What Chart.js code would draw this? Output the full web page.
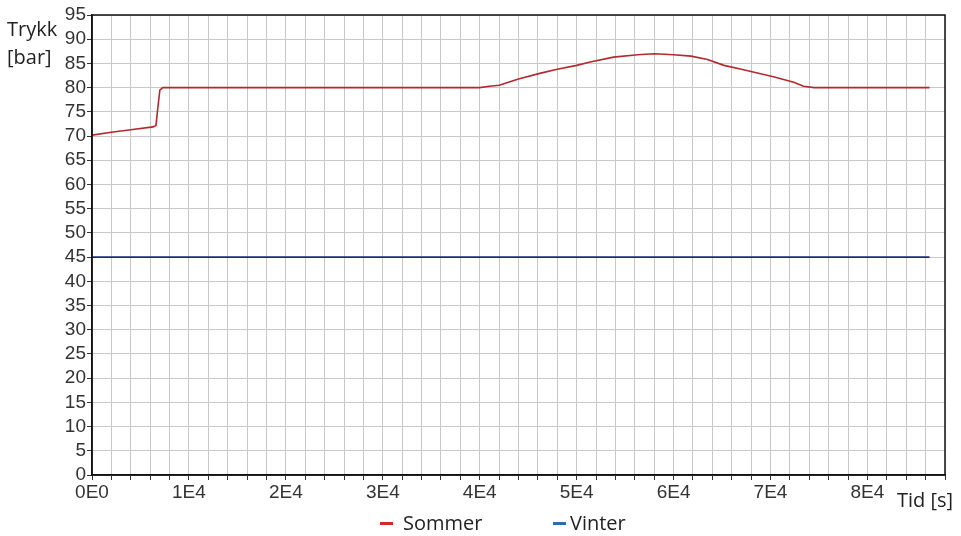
<!DOCTYPE html>
<html>
<head>
<meta charset="utf-8">
<script src="https://cdn.jsdelivr.net/npm/chart.js@4"></script>
<style>
html,body{margin:0;padding:0;background:#fff;}
#wrap{position:relative;width:961px;height:536px;}
canvas{display:block;}
.ytitle{position:absolute;left:7px;top:15px;font:20px "Open Sans",sans-serif;line-height:28px;color:#222;}
.xtitle{position:absolute;left:897px;top:486px;font:20px "Open Sans",sans-serif;line-height:28px;color:#222;}
.item{position:absolute;top:509px;display:flex;align-items:center;font:20px "Open Sans",sans-serif;line-height:28px;color:#222;}
.mk{display:inline-block;width:13px;height:3px;}
</style>
</head>
<body>
<div id="wrap">
<canvas id="c" width="961" height="536"></canvas>
<div class="ytitle">Trykk<br>[bar]</div>
<div class="xtitle">Tid [s]</div>
<div id="legend"></div>
</div>
<script>
const sommerTime = [0, 2000, 4000, 6300, 6600, 6800, 7000, 7300, 20000, 40000, 41000, 42000, 44000, 46300, 48000, 50000, 51400, 53800, 56300, 58000, 60000, 61800, 63500, 65200, 67000, 70400, 72400, 73400, 74500, 80000, 86400];
const sommerValues = [70.2, 70.8, 71.3, 71.9, 72.2, 76.0, 79.5, 80.0, 80.0, 80.0, 80.3, 80.5, 81.8, 83.0, 83.8, 84.6, 85.3, 86.3, 86.8, 87.0, 86.8, 86.5, 85.8, 84.6, 83.8, 82.2, 81.1, 80.3, 80.0, 80.0, 80.0];
const vinterTime = [0, 86400];
const vinterValues = [45, 45];
const seriesNames = ["Sommer", "Vinter"];
const legendColors = ["#d42a2a", "#2a6db5"];
const yTicks = [0,5,10,15,20,25,30,35,40,45,50,55,60,65,70,75,80,85,90,95];
const xLabels = {0:"0E0",10000:"1E4",20000:"2E4",30000:"3E4",40000:"4E4",50000:"5E4",60000:"6E4",70000:"7E4",80000:"8E4"};

const toPts = (xs, ys) => xs.map((x, i) => ({x: x, y: ys[i]}));

const frame = {
  id: 'frame',
  afterDatasetsDraw(chart) {
    const a = chart.chartArea, ctx = chart.ctx;
    ctx.save();
    ctx.strokeStyle = '#111';
    ctx.lineWidth = 1.5;
    ctx.strokeRect(a.left, a.top, a.right - a.left, a.bottom - a.top);
    ctx.restore();
  }
};

const tickFont = {family: '"Liberation Sans", Arial, sans-serif', size: 19};

const chart = new Chart(document.getElementById('c'), {
  type: 'line',
  data: {
    datasets: [
      {label: seriesNames[0], data: toPts(sommerTime, sommerValues), borderColor: '#b02a2e', borderWidth: 1.6, pointRadius: 0, tension: 0},
      {label: seriesNames[1], data: toPts(vinterTime, vinterValues), borderColor: '#1e2a78', borderWidth: 1.6, pointRadius: 0, tension: 0}
    ]
  },
  options: {
    responsive: false,
    animation: false,
    layout: {padding: {left: 0, right: 16, top: 15, bottom: 35}},
    plugins: {
      tooltip: {enabled: false},
      legend: {display: false}
    },
    scales: {
      x: {
        type: 'linear', min: 0, max: 88000,
        afterFit(s) { s.height = 26; },
        border: {display: true, color: '#111', width: 1.5},
        grid: {color: '#c8c8c8', lineWidth: 1, tickLength: 5, tickColor: '#333', drawTicks: true},
        ticks: {
          stepSize: 2000, autoSkip: false, maxRotation: 0, padding: 1,
          font: tickFont, color: '#333',
          callback: v => (xLabels[v] !== undefined ? xLabels[v] : '')
        }
      },
      y: {
        type: 'linear', min: 0, max: 95,
        afterFit(s) { s.width = 92; },
        afterBuildTicks(s) { s.ticks = yTicks.map(v => ({value: v})); },
        border: {display: true, color: '#111', width: 1.5},
        grid: {color: '#c8c8c8', lineWidth: 1, tickLength: 5, tickColor: '#333'},
        ticks: {font: tickFont, color: '#333', padding: 1, autoSkip: false}
      }
    }
  },
  plugins: [frame]
});

const legendLeft = [380, 553];
const legendGap = [10, 4];
const lg = document.getElementById('legend');
seriesNames.forEach((n, i) => {
  const it = document.createElement('span'); it.className = 'item'; it.style.left = legendLeft[i] + 'px';
  const mk = document.createElement('span'); mk.className = 'mk'; mk.style.background = legendColors[i]; mk.style.marginRight = legendGap[i] + 'px';
  it.appendChild(mk); it.appendChild(document.createTextNode(n));
  lg.appendChild(it);
});
</script>
</body>
</html>
